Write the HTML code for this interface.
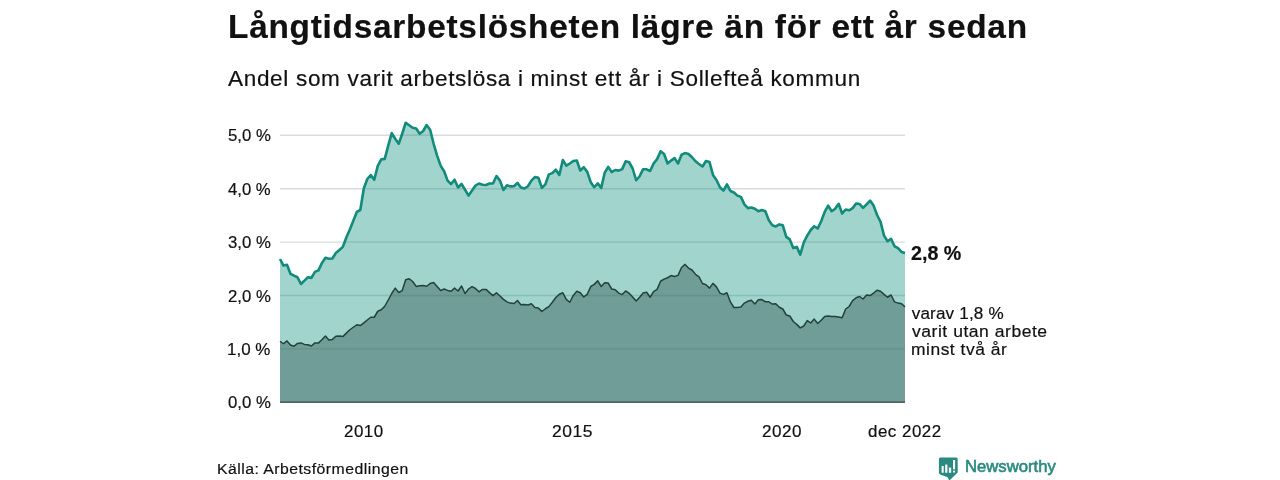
<!DOCTYPE html>
<html lang="sv"><head><meta charset="utf-8"><title>Långtidsarbetslösheten</title>
<style>
html,body{margin:0;padding:0;background:#fff;}
body{width:1280px;height:480px;position:relative;overflow:hidden;font-family:"Liberation Sans", sans-serif;}
.t{position:absolute;white-space:pre;line-height:1;transform-origin:0 0;-webkit-text-stroke:0.2px #111;}
svg{position:absolute;left:0;top:0;}
</style></head><body>
<svg width="1280" height="480" viewBox="0 0 1280 480">
<g stroke="#dcdae1" stroke-width="1.4" fill="none"><line x1="280.0" x2="905.0" y1="348.90" y2="348.90"/><line x1="280.0" x2="905.0" y1="295.50" y2="295.50"/><line x1="280.0" x2="905.0" y1="242.10" y2="242.10"/><line x1="280.0" x2="905.0" y1="188.70" y2="188.70"/><line x1="280.0" x2="905.0" y1="135.30" y2="135.30"/></g>
<path d="M280.00,259.00 L283.49,265.60 L286.98,264.75 L290.47,273.75 L293.97,275.60 L297.46,277.25 L300.95,284.00 L304.44,280.60 L307.93,277.25 L311.42,277.90 L314.92,271.90 L318.41,270.40 L321.90,263.10 L325.39,257.75 L328.88,258.75 L332.37,258.50 L335.87,252.90 L339.36,250.00 L342.85,246.90 L346.34,237.50 L349.83,229.50 L353.32,220.70 L356.82,211.90 L360.31,210.00 L363.80,188.50 L367.29,179.00 L370.78,175.10 L374.27,179.80 L377.77,165.90 L381.26,159.40 L384.75,158.90 L388.24,145.60 L391.73,133.10 L395.22,138.75 L398.72,143.75 L402.21,133.75 L405.70,122.75 L409.19,125.25 L412.68,127.75 L416.17,128.50 L419.66,133.75 L423.16,131.00 L426.65,125.00 L430.14,129.75 L433.63,143.75 L437.12,155.60 L440.61,165.60 L444.11,171.25 L447.60,180.60 L451.09,184.00 L454.58,179.75 L458.07,187.50 L461.56,184.00 L465.06,189.75 L468.55,195.60 L472.04,190.60 L475.53,185.60 L479.02,183.50 L482.51,184.75 L486.01,185.00 L489.50,183.50 L492.99,183.50 L496.48,176.00 L499.97,180.60 L503.46,190.00 L506.96,185.30 L510.45,186.40 L513.94,186.25 L517.43,182.90 L520.92,187.50 L524.41,188.50 L527.91,186.25 L531.40,180.60 L534.89,177.10 L538.38,177.75 L541.87,187.90 L545.36,184.40 L548.85,174.40 L552.35,173.10 L555.84,169.75 L559.33,175.00 L562.82,160.00 L566.31,165.60 L569.80,163.50 L573.30,161.00 L576.79,160.50 L580.28,170.50 L583.77,167.25 L587.26,171.90 L590.75,182.25 L594.25,187.25 L597.74,183.40 L601.23,187.90 L604.72,172.75 L608.21,166.90 L611.70,172.10 L615.20,170.00 L618.69,170.60 L622.18,169.10 L625.67,161.25 L629.16,162.25 L632.65,168.50 L636.15,180.25 L639.64,176.25 L643.13,169.20 L646.62,169.30 L650.11,171.00 L653.60,163.50 L657.09,159.10 L660.59,151.25 L664.08,154.00 L667.57,163.50 L671.06,160.60 L674.55,158.10 L678.04,163.50 L681.54,154.75 L685.03,153.10 L688.52,154.00 L692.01,157.25 L695.50,161.25 L698.99,164.00 L702.49,166.50 L705.98,161.00 L709.47,161.90 L712.96,174.90 L716.45,180.00 L719.94,187.20 L723.44,190.60 L726.93,184.40 L730.42,191.00 L733.91,192.50 L737.40,195.60 L740.89,196.90 L744.39,204.40 L747.88,208.10 L751.37,207.50 L754.86,208.75 L758.35,211.25 L761.84,210.00 L765.34,211.25 L768.83,220.30 L772.32,225.20 L775.81,226.40 L779.30,224.40 L782.79,225.30 L786.28,236.90 L789.78,239.40 L793.27,248.10 L796.76,246.90 L800.25,254.60 L803.74,242.50 L807.23,235.60 L810.73,230.00 L814.22,226.25 L817.71,228.50 L821.20,221.25 L824.69,211.90 L828.18,205.60 L831.68,211.25 L835.17,208.75 L838.66,203.75 L842.15,213.50 L845.64,209.60 L849.13,210.30 L852.63,208.10 L856.12,203.50 L859.61,204.00 L863.10,207.90 L866.59,204.40 L870.08,200.60 L873.58,205.60 L877.07,215.00 L880.56,221.90 L884.05,235.60 L887.54,241.25 L891.03,238.75 L894.53,246.25 L898.02,248.10 L901.51,251.90 L905.00,253.10 L905.00,402.5 L280.00,402.5 Z" fill="#12947f" fill-opacity="0.4"/>
<path d="M280.00,341.25 L283.49,343.75 L286.98,340.90 L290.47,345.00 L293.97,346.25 L297.46,343.40 L300.95,342.90 L304.44,344.40 L307.93,344.75 L311.42,346.00 L314.92,342.90 L318.41,343.10 L321.90,339.75 L325.39,336.00 L328.88,340.00 L332.37,339.40 L335.87,336.25 L339.36,336.00 L342.85,336.60 L346.34,333.10 L349.83,329.75 L353.32,327.25 L356.82,324.75 L360.31,325.60 L363.80,322.90 L367.29,320.00 L370.78,317.25 L374.27,317.25 L377.77,311.25 L381.26,309.75 L384.75,306.25 L388.24,300.00 L391.73,293.50 L395.22,288.10 L398.72,292.50 L402.21,290.60 L405.70,279.75 L409.19,278.75 L412.68,281.50 L416.17,286.40 L419.66,285.80 L423.16,285.60 L426.65,286.25 L430.14,283.50 L433.63,282.50 L437.12,286.60 L440.61,290.60 L444.11,289.00 L447.60,290.40 L451.09,291.25 L454.58,288.10 L458.07,291.00 L461.56,286.00 L465.06,293.50 L468.55,289.00 L472.04,286.60 L475.53,288.50 L479.02,291.90 L482.51,289.40 L486.01,289.40 L489.50,292.60 L492.99,295.60 L496.48,292.75 L499.97,296.00 L503.46,299.40 L506.96,301.90 L510.45,303.10 L513.94,303.50 L517.43,300.60 L520.92,304.75 L524.41,304.40 L527.91,305.00 L531.40,303.75 L534.89,307.50 L538.38,308.10 L541.87,311.50 L545.36,308.75 L548.85,306.60 L552.35,302.20 L555.84,297.50 L559.33,294.20 L562.82,292.75 L566.31,299.40 L569.80,302.25 L573.30,295.40 L576.79,291.25 L580.28,292.75 L583.77,296.90 L587.26,294.40 L590.75,286.50 L594.25,284.40 L597.74,280.90 L601.23,286.50 L604.72,282.75 L608.21,283.10 L611.70,289.00 L615.20,289.75 L618.69,293.10 L622.18,294.60 L625.67,291.00 L629.16,293.30 L632.65,296.90 L636.15,301.00 L639.64,297.25 L643.13,293.10 L646.62,292.25 L650.11,297.25 L653.60,291.60 L657.09,289.40 L660.59,281.25 L664.08,279.10 L667.57,277.75 L671.06,275.60 L674.55,276.50 L678.04,275.40 L681.54,267.50 L685.03,264.40 L688.52,268.10 L692.01,270.00 L695.50,274.40 L698.99,276.90 L702.49,283.50 L705.98,284.75 L709.47,288.10 L712.96,283.40 L716.45,286.90 L719.94,293.10 L723.44,294.40 L726.93,292.75 L730.42,301.90 L733.91,307.50 L737.40,307.50 L740.89,306.90 L744.39,303.10 L747.88,301.25 L751.37,300.25 L754.86,304.00 L758.35,299.75 L761.84,299.60 L765.34,301.75 L768.83,301.75 L772.32,304.10 L775.81,303.75 L779.30,307.25 L782.79,309.00 L786.28,315.00 L789.78,316.00 L793.27,321.50 L796.76,324.40 L800.25,327.90 L803.74,326.00 L807.23,320.60 L810.73,322.90 L814.22,319.10 L817.71,323.50 L821.20,320.25 L824.69,316.50 L828.18,316.00 L831.68,316.40 L835.17,316.50 L838.66,317.00 L842.15,317.75 L845.64,309.00 L849.13,306.50 L852.63,300.60 L856.12,297.75 L859.61,296.50 L863.10,299.00 L866.59,295.00 L870.08,295.60 L873.58,293.10 L877.07,290.25 L880.56,291.25 L884.05,294.40 L887.54,297.25 L891.03,295.00 L894.53,301.90 L898.02,303.10 L901.51,303.75 L905.00,306.90 L905.00,402.5 L280.00,402.5 Z" fill="#355c57" fill-opacity="0.45"/>
<path d="M280.00,259.00 L283.49,265.60 L286.98,264.75 L290.47,273.75 L293.97,275.60 L297.46,277.25 L300.95,284.00 L304.44,280.60 L307.93,277.25 L311.42,277.90 L314.92,271.90 L318.41,270.40 L321.90,263.10 L325.39,257.75 L328.88,258.75 L332.37,258.50 L335.87,252.90 L339.36,250.00 L342.85,246.90 L346.34,237.50 L349.83,229.50 L353.32,220.70 L356.82,211.90 L360.31,210.00 L363.80,188.50 L367.29,179.00 L370.78,175.10 L374.27,179.80 L377.77,165.90 L381.26,159.40 L384.75,158.90 L388.24,145.60 L391.73,133.10 L395.22,138.75 L398.72,143.75 L402.21,133.75 L405.70,122.75 L409.19,125.25 L412.68,127.75 L416.17,128.50 L419.66,133.75 L423.16,131.00 L426.65,125.00 L430.14,129.75 L433.63,143.75 L437.12,155.60 L440.61,165.60 L444.11,171.25 L447.60,180.60 L451.09,184.00 L454.58,179.75 L458.07,187.50 L461.56,184.00 L465.06,189.75 L468.55,195.60 L472.04,190.60 L475.53,185.60 L479.02,183.50 L482.51,184.75 L486.01,185.00 L489.50,183.50 L492.99,183.50 L496.48,176.00 L499.97,180.60 L503.46,190.00 L506.96,185.30 L510.45,186.40 L513.94,186.25 L517.43,182.90 L520.92,187.50 L524.41,188.50 L527.91,186.25 L531.40,180.60 L534.89,177.10 L538.38,177.75 L541.87,187.90 L545.36,184.40 L548.85,174.40 L552.35,173.10 L555.84,169.75 L559.33,175.00 L562.82,160.00 L566.31,165.60 L569.80,163.50 L573.30,161.00 L576.79,160.50 L580.28,170.50 L583.77,167.25 L587.26,171.90 L590.75,182.25 L594.25,187.25 L597.74,183.40 L601.23,187.90 L604.72,172.75 L608.21,166.90 L611.70,172.10 L615.20,170.00 L618.69,170.60 L622.18,169.10 L625.67,161.25 L629.16,162.25 L632.65,168.50 L636.15,180.25 L639.64,176.25 L643.13,169.20 L646.62,169.30 L650.11,171.00 L653.60,163.50 L657.09,159.10 L660.59,151.25 L664.08,154.00 L667.57,163.50 L671.06,160.60 L674.55,158.10 L678.04,163.50 L681.54,154.75 L685.03,153.10 L688.52,154.00 L692.01,157.25 L695.50,161.25 L698.99,164.00 L702.49,166.50 L705.98,161.00 L709.47,161.90 L712.96,174.90 L716.45,180.00 L719.94,187.20 L723.44,190.60 L726.93,184.40 L730.42,191.00 L733.91,192.50 L737.40,195.60 L740.89,196.90 L744.39,204.40 L747.88,208.10 L751.37,207.50 L754.86,208.75 L758.35,211.25 L761.84,210.00 L765.34,211.25 L768.83,220.30 L772.32,225.20 L775.81,226.40 L779.30,224.40 L782.79,225.30 L786.28,236.90 L789.78,239.40 L793.27,248.10 L796.76,246.90 L800.25,254.60 L803.74,242.50 L807.23,235.60 L810.73,230.00 L814.22,226.25 L817.71,228.50 L821.20,221.25 L824.69,211.90 L828.18,205.60 L831.68,211.25 L835.17,208.75 L838.66,203.75 L842.15,213.50 L845.64,209.60 L849.13,210.30 L852.63,208.10 L856.12,203.50 L859.61,204.00 L863.10,207.90 L866.59,204.40 L870.08,200.60 L873.58,205.60 L877.07,215.00 L880.56,221.90 L884.05,235.60 L887.54,241.25 L891.03,238.75 L894.53,246.25 L898.02,248.10 L901.51,251.90 L905.00,253.10" fill="none" stroke="#128b7b" stroke-width="2.6" stroke-linejoin="round" stroke-linecap="butt"/>
<path d="M280.00,341.25 L283.49,343.75 L286.98,340.90 L290.47,345.00 L293.97,346.25 L297.46,343.40 L300.95,342.90 L304.44,344.40 L307.93,344.75 L311.42,346.00 L314.92,342.90 L318.41,343.10 L321.90,339.75 L325.39,336.00 L328.88,340.00 L332.37,339.40 L335.87,336.25 L339.36,336.00 L342.85,336.60 L346.34,333.10 L349.83,329.75 L353.32,327.25 L356.82,324.75 L360.31,325.60 L363.80,322.90 L367.29,320.00 L370.78,317.25 L374.27,317.25 L377.77,311.25 L381.26,309.75 L384.75,306.25 L388.24,300.00 L391.73,293.50 L395.22,288.10 L398.72,292.50 L402.21,290.60 L405.70,279.75 L409.19,278.75 L412.68,281.50 L416.17,286.40 L419.66,285.80 L423.16,285.60 L426.65,286.25 L430.14,283.50 L433.63,282.50 L437.12,286.60 L440.61,290.60 L444.11,289.00 L447.60,290.40 L451.09,291.25 L454.58,288.10 L458.07,291.00 L461.56,286.00 L465.06,293.50 L468.55,289.00 L472.04,286.60 L475.53,288.50 L479.02,291.90 L482.51,289.40 L486.01,289.40 L489.50,292.60 L492.99,295.60 L496.48,292.75 L499.97,296.00 L503.46,299.40 L506.96,301.90 L510.45,303.10 L513.94,303.50 L517.43,300.60 L520.92,304.75 L524.41,304.40 L527.91,305.00 L531.40,303.75 L534.89,307.50 L538.38,308.10 L541.87,311.50 L545.36,308.75 L548.85,306.60 L552.35,302.20 L555.84,297.50 L559.33,294.20 L562.82,292.75 L566.31,299.40 L569.80,302.25 L573.30,295.40 L576.79,291.25 L580.28,292.75 L583.77,296.90 L587.26,294.40 L590.75,286.50 L594.25,284.40 L597.74,280.90 L601.23,286.50 L604.72,282.75 L608.21,283.10 L611.70,289.00 L615.20,289.75 L618.69,293.10 L622.18,294.60 L625.67,291.00 L629.16,293.30 L632.65,296.90 L636.15,301.00 L639.64,297.25 L643.13,293.10 L646.62,292.25 L650.11,297.25 L653.60,291.60 L657.09,289.40 L660.59,281.25 L664.08,279.10 L667.57,277.75 L671.06,275.60 L674.55,276.50 L678.04,275.40 L681.54,267.50 L685.03,264.40 L688.52,268.10 L692.01,270.00 L695.50,274.40 L698.99,276.90 L702.49,283.50 L705.98,284.75 L709.47,288.10 L712.96,283.40 L716.45,286.90 L719.94,293.10 L723.44,294.40 L726.93,292.75 L730.42,301.90 L733.91,307.50 L737.40,307.50 L740.89,306.90 L744.39,303.10 L747.88,301.25 L751.37,300.25 L754.86,304.00 L758.35,299.75 L761.84,299.60 L765.34,301.75 L768.83,301.75 L772.32,304.10 L775.81,303.75 L779.30,307.25 L782.79,309.00 L786.28,315.00 L789.78,316.00 L793.27,321.50 L796.76,324.40 L800.25,327.90 L803.74,326.00 L807.23,320.60 L810.73,322.90 L814.22,319.10 L817.71,323.50 L821.20,320.25 L824.69,316.50 L828.18,316.00 L831.68,316.40 L835.17,316.50 L838.66,317.00 L842.15,317.75 L845.64,309.00 L849.13,306.50 L852.63,300.60 L856.12,297.75 L859.61,296.50 L863.10,299.00 L866.59,295.00 L870.08,295.60 L873.58,293.10 L877.07,290.25 L880.56,291.25 L884.05,294.40 L887.54,297.25 L891.03,295.00 L894.53,301.90 L898.02,303.10 L901.51,303.75 L905.00,306.90" fill="none" stroke="#22423c" stroke-width="1.5" stroke-linejoin="round" stroke-linecap="butt"/>
<line x1="280.0" x2="905.0" y1="402.05" y2="402.05" stroke="#3a4245" stroke-width="1.3"/>
<path d="M940.4,457.4 H956.2 Q957.7,457.4 957.7,458.9 V472.4 L949.3,480.6 L947.6,477.2 L940.2,474.6 Q938.9,474.1 938.9,472.8 V458.9 Q938.9,457.4 940.4,457.4 Z" fill="#2b8a80"/>
<g fill="#fff"><rect x="941.6" y="466" width="2.1" height="6.7" rx="0.5"/><rect x="945.2" y="464.5" width="2.2" height="8.2" rx="0.5"/><rect x="948.9" y="467.5" width="2.3" height="5.2" rx="0.5"/><rect x="953" y="459.9" width="2.1" height="9.3" rx="0.5"/><rect x="953" y="470.4" width="2.1" height="2.1" rx="0.6"/></g>
</svg>
<div class="t" style="left:228.41px;top:10px;font-size:33.6px;font-weight:700;letter-spacing:0.74px;color:#111;transform:scaleX(0.9944)">Långtidsarbetslösheten lägre än för ett år sedan</div>
<div class="t" style="left:227.85px;top:68px;font-size:21.8px;font-weight:400;letter-spacing:0.65px;color:#111;transform:scaleX(1.0341)">Andel som varit arbetslösa i minst ett år i Sollefteå kommun</div>
<div class="t" style="left:227.91px;top:127px;font-size:17.1px;font-weight:400;letter-spacing:0.00px;color:#111;transform:scaleX(0.9805)">5,0 %</div>
<div class="t" style="left:228.20px;top:181px;font-size:17.1px;font-weight:400;letter-spacing:0.00px;color:#111;transform:scaleX(0.9752)">4,0 %</div>
<div class="t" style="left:227.91px;top:234px;font-size:17.1px;font-weight:400;letter-spacing:0.00px;color:#111;transform:scaleX(0.9805)">3,0 %</div>
<div class="t" style="left:228.25px;top:288px;font-size:17.1px;font-weight:400;letter-spacing:0.00px;color:#111;transform:scaleX(0.9795)">2,0 %</div>
<div class="t" style="left:227.28px;top:341px;font-size:17.1px;font-weight:400;letter-spacing:0.00px;color:#111;transform:scaleX(0.9921)">1,0 %</div>
<div class="t" style="left:227.91px;top:394px;font-size:17.1px;font-weight:400;letter-spacing:0.00px;color:#111;transform:scaleX(0.9805)">0,0 %</div>
<div class="t" style="left:343.65px;top:423px;font-size:17.1px;font-weight:400;letter-spacing:0.51px;color:#111;transform:scaleX(0.9900)">2010</div>
<div class="t" style="left:552.17px;top:423px;font-size:17.1px;font-weight:400;letter-spacing:0.51px;color:#111;transform:scaleX(1.0204)">2015</div>
<div class="t" style="left:762.32px;top:423px;font-size:17.1px;font-weight:400;letter-spacing:0.51px;color:#111;transform:scaleX(0.9986)">2020</div>
<div class="t" style="left:867.99px;top:423px;font-size:17.1px;font-weight:400;letter-spacing:0.51px;color:#111;transform:scaleX(0.9894)">dec 2022</div>
<div class="t" style="left:216.87px;top:461px;font-size:15.5px;font-weight:400;letter-spacing:0.46px;color:#111;transform:scaleX(1.0186)">Källa: Arbetsförmedlingen</div>
<div class="t" style="left:911.26px;top:244px;font-size:19.7px;font-weight:700;letter-spacing:0.00px;color:#111;transform:scaleX(0.9989)">2,8 %</div>
<div class="t" style="left:911.70px;top:305px;font-size:17.1px;font-weight:400;letter-spacing:0.17px;color:#111;transform:scaleX(1.0000)">varav 1,8 %</div>
<div class="t" style="left:912.06px;top:323px;font-size:17.1px;font-weight:400;letter-spacing:0.51px;color:#111;transform:scaleX(1.0258)">varit utan arbete</div>
<div class="t" style="left:910.63px;top:341px;font-size:17.1px;font-weight:400;letter-spacing:0.51px;color:#111;transform:scaleX(1.0193)">minst två år</div>
<div class="t" style="left:964.73px;top:459px;font-size:16.6px;font-weight:400;letter-spacing:0.00px;color:#2b8a80;-webkit-text-stroke:0.6px #2b8a80;transform:scaleX(1.0044)">Newsworthy</div>
</body></html>
